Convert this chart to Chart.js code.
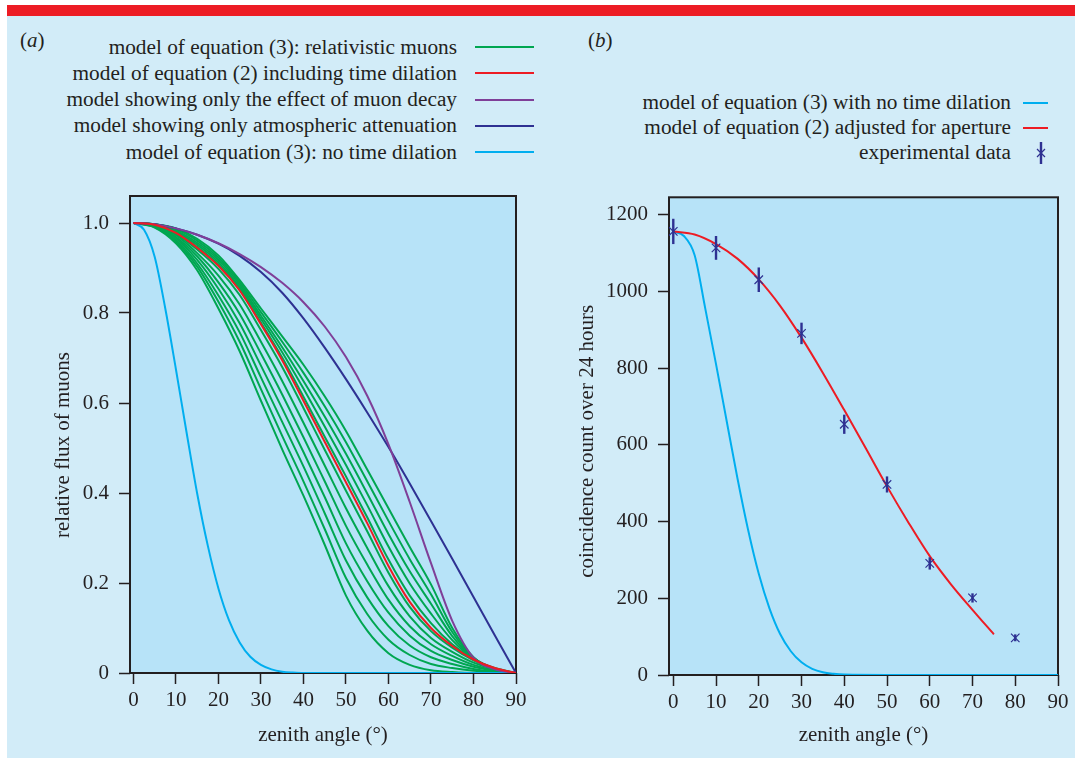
<!DOCTYPE html>
<html>
<head>
<meta charset="utf-8">
<script src="https://cdn.jsdelivr.net/npm/chart.js@4/dist/chart.umd.min.js"></script>
<style>
body{margin:0;background:#fff;width:1075px;height:758px;overflow:hidden;position:relative;font-family:"Liberation Serif",serif;color:#231f20}
#bar{position:absolute;left:7px;top:5px;width:1068px;height:11px;background:#ed1c24}
#panel{position:absolute;left:7px;top:16px;width:1068px;height:742px;background:#d2ecf8}
canvas{position:absolute}
#chartA{left:0;top:180px}
#chartB{left:540px;top:180px}
.tag{position:absolute;top:28px;font-size:21px;line-height:25px}
.key{position:absolute;font-size:21.3px}
.row{display:flex;align-items:center;justify-content:flex-end;white-space:nowrap}
.keyA .row{height:26.25px}
.keyB .row{height:25px}
.keyA .row i{display:inline-block;width:59px;height:2px;margin-left:18px}
.keyB .row i{display:inline-block;width:25px;height:2px;margin-left:12px}
.keyB .row svg{margin-left:12px}
</style>
</head>
<body>
<div id="bar"></div>
<div id="panel"></div>
<div class="tag" style="left:20px">(<i>a</i>)</div>
<div class="tag" style="left:588px">(<i>b</i>)</div>

<div class="key keyA" style="right:541px;top:34px">
  <div class="row">model of equation (3): relativistic muons<i style="background:#00a651"></i></div>
  <div class="row">model of equation (2) including time dilation<i style="background:#ed1c24"></i></div>
  <div class="row">model showing only the effect of muon decay<i style="background:#7f3f98"></i></div>
  <div class="row">model showing only atmospheric attenuation<i style="background:#2e3192"></i></div>
  <div class="row">model of equation (3): no time dilation<i style="background:#00aeef"></i></div>
</div>

<div class="key keyB" style="right:27px;top:90px">
  <div class="row">model of equation (3) with no time dilation<i style="background:#00aeef"></i></div>
  <div class="row">model of equation (2) adjusted for aperture<i style="background:#ed1c24"></i></div>
  <div class="row">experimental data<svg width="25" height="24" viewBox="0 0 25 24"><path d="M14 8 L22 16 M22 8 L14 16" stroke="#2e3192" stroke-width="1.2"/><path d="M18 1 L18 23" stroke="#2e3192" stroke-width="2.4"/></svg></div>
</div>

<canvas id="chartA" width="540" height="578"></canvas>
<canvas id="chartB" width="535" height="578"></canvas>

<script>
// panel (a): relative flux vs zenith angle
const angles = [0, 5, 10, 15, 20, 25, 30, 35, 40, 45, 50, 55, 60, 65, 70, 75, 80, 85, 90];
const fineAngles = [0, 2.5, 5, 7.5, 10, 12.5, 15, 17.5, 20, 22.5, 25, 27.5, 30, 32.5, 35, 37.5, 40, 50, 60, 70, 80, 90];
const fluxTicksX = [0, 10, 20, 30, 40, 50, 60, 70, 80, 90];
const fluxTicksY = [0, 0.2, 0.4, 0.6, 0.8, 1.0];

const green01 = [1, 0.990, 0.955, 0.895, 0.810, 0.715, 0.605, 0.497, 0.394, 0.285, 0.172, 0.094, 0.044, 0.018, 0.006, 0.002, 0, 0, 0];
const green02 = [1, 0.991, 0.959, 0.903, 0.825, 0.736, 0.631, 0.527, 0.426, 0.320, 0.211, 0.131, 0.074, 0.040, 0.020, 0.011, 0.005, 0.002, 0];
const green03 = [1, 0.992, 0.962, 0.910, 0.839, 0.757, 0.657, 0.558, 0.459, 0.355, 0.250, 0.168, 0.104, 0.061, 0.035, 0.020, 0.009, 0.003, 0];
const green04 = [1, 0.993, 0.966, 0.918, 0.854, 0.777, 0.683, 0.588, 0.491, 0.391, 0.288, 0.204, 0.134, 0.083, 0.049, 0.029, 0.014, 0.005, 0];
const green05 = [1, 0.994, 0.969, 0.926, 0.868, 0.798, 0.710, 0.619, 0.524, 0.426, 0.327, 0.241, 0.163, 0.104, 0.064, 0.038, 0.018, 0.006, 0];
const green06 = [1, 0.995, 0.973, 0.933, 0.883, 0.819, 0.736, 0.649, 0.556, 0.461, 0.366, 0.278, 0.193, 0.126, 0.078, 0.047, 0.023, 0.008, 0];
const green07 = [1, 0.996, 0.976, 0.941, 0.898, 0.840, 0.762, 0.680, 0.589, 0.496, 0.405, 0.315, 0.223, 0.147, 0.093, 0.056, 0.028, 0.009, 0];
const green08 = [1, 0.996, 0.979, 0.947, 0.908, 0.853, 0.779, 0.701, 0.614, 0.525, 0.437, 0.346, 0.252, 0.172, 0.111, 0.064, 0.031, 0.011, 0];
const green09 = [1, 0.996, 0.981, 0.952, 0.913, 0.858, 0.787, 0.713, 0.632, 0.548, 0.462, 0.373, 0.281, 0.199, 0.132, 0.073, 0.032, 0.010, 0];
const green10 = [1, 0.997, 0.983, 0.956, 0.918, 0.863, 0.794, 0.724, 0.649, 0.570, 0.487, 0.399, 0.309, 0.226, 0.154, 0.082, 0.033, 0.009, 0];
const green11 = [1, 0.997, 0.986, 0.961, 0.923, 0.868, 0.802, 0.736, 0.667, 0.593, 0.513, 0.426, 0.338, 0.253, 0.175, 0.091, 0.034, 0.008, 0];
const green12 = [1, 0.997, 0.988, 0.965, 0.928, 0.873, 0.810, 0.748, 0.685, 0.615, 0.538, 0.452, 0.366, 0.280, 0.197, 0.100, 0.035, 0.008, 0];
const withDilation = [1, 0.996, 0.978, 0.945, 0.905, 0.850, 0.775, 0.695, 0.605, 0.514, 0.424, 0.333, 0.238, 0.158, 0.100, 0.060, 0.030, 0.011, 0];
const decayOnly = [1, 0.997, 0.988, 0.974, 0.955, 0.931, 0.902, 0.867, 0.824, 0.770, 0.702, 0.616, 0.508, 0.380, 0.244, 0.116, 0.034, 0.008, 0];
const attenuationOnly = [1, 0.997, 0.988, 0.974, 0.954, 0.927, 0.891, 0.845, 0.788, 0.723, 0.653, 0.579, 0.502, 0.421, 0.338, 0.254, 0.169, 0.084, 0];
const noDilation = [1, 0.985, 0.925, 0.810, 0.675, 0.535, 0.399, 0.283, 0.188, 0.117, 0.068, 0.036, 0.018, 0.008, 0.003, 0.001, 0, 0, 0, 0, 0, 0];

// panel (b): coincidence counts
const countAngles = [0, 10, 20, 30, 40, 50, 60, 70, 80];
const counts = [1157, 1114, 1031, 891, 654, 497, 291, 201, 97];
const countErr = [33, 31, 32, 28, 25, 21, 16, 12, 9];
const apertureAngles = [0, 5, 10, 15, 20, 25, 30, 35, 40, 45, 50, 55, 60, 65, 70, 75];
const apertureModel = [1157, 1149, 1124, 1086, 1032, 963, 880, 788, 691, 592, 492, 398, 310, 236, 170, 106];
const noDilationCount = [1157, 1145, 1095, 955, 811, 662, 514, 379, 264, 174, 107, 62, 33, 16, 7, 3, 1, 0, 0, 0, 0, 0];
const countTicksY = [0, 200, 400, 600, 800, 1000, 1200];

const GREEN = "#00a651", RED = "#ed1c24", PURPLE = "#7f3f98", NAVY = "#2e3192", SKY = "#00aeef";
const INK = "#231f20";
const FONT = { family: "'Liberation Serif', serif", size: 21 };

function pts(xs, ys) { return xs.map((x, i) => ({ x: x, y: ys[i] })); }
function curve(xs, ys, color) {
    return { data: pts(xs, ys), borderColor: color, borderWidth: 2, pointRadius: 0, fill: false, cubicInterpolationMode: "monotone" };
}

// plot background, then the frame under the curves
const framePlugin = {
    id: "frame",
    beforeDraw(c) {
        const a = c.chartArea, ctx = c.ctx;
        ctx.save();
        ctx.fillStyle = "#b7e3f8";
        ctx.fillRect(a.left, a.top, a.width, a.height);
        ctx.restore();
    },
    beforeDatasetsDraw(c) {
        const a = c.chartArea, ctx = c.ctx;
        ctx.save();
        ctx.strokeStyle = INK;
        ctx.lineWidth = 2;
        ctx.strokeRect(a.left, a.top, a.width, a.height);
        ctx.restore();
    }
};

// vertical error bars for the experimental points
const errorBars = {
    id: "errorBars",
    afterDatasetsDraw(c) {
        const ctx = c.ctx, xs = c.scales.x, ys = c.scales.y;
        c.data.datasets.forEach(ds => {
            if (!ds.errors) return;
            ctx.save();
            ctx.strokeStyle = ds.borderColor;
            ctx.lineWidth = 2.4;
            ds.data.forEach((p, i) => {
                const px = xs.getPixelForValue(p.x);
                ctx.beginPath();
                ctx.moveTo(px, ys.getPixelForValue(p.y - ds.errors[i]));
                ctx.lineTo(px, ys.getPixelForValue(p.y + ds.errors[i]));
                ctx.stroke();
            });
            ctx.restore();
        });
    }
};

function axes(xmin, ymax, xTicks, yTicks, yTitle, yWidth, xHeight, yTitlePad, fmt) {
    const tickGrid = { drawOnChartArea: false, drawTicks: true, tickLength: 11, tickColor: INK, tickWidth: 1.5 };
    return {
        x: {
            type: "linear", min: xmin, max: 90,
            afterBuildTicks: s => { s.ticks = xTicks.map(v => ({ value: v })); },
            afterFit: s => { s.height = xHeight; },
            grid: tickGrid, border: { display: false },
            ticks: { color: INK, font: FONT, padding: 4, maxRotation: 0 },
            title: { display: true, text: "zenith angle (°)", color: INK, font: FONT, padding: { bottom: 10 } }
        },
        y: {
            type: "linear", min: 0, max: ymax,
            afterBuildTicks: s => { s.ticks = yTicks.map(v => ({ value: v })); },
            afterFit: s => { s.width = yWidth; s.paddingTop = 0; s.paddingBottom = 0; },
            grid: tickGrid, border: { display: false },
            ticks: { color: INK, font: FONT, padding: 10, callback: fmt },
            title: { display: true, text: yTitle, color: INK, font: FONT, padding: { top: yTitlePad } }
        }
    };
}

const greens = [green01, green02, green03, green04, green05, green06, green07, green08, green09, green10, green11, green12];

new Chart(document.getElementById("chartA"), {
    type: "line",
    data: {
        datasets: [
            curve(angles, withDilation, RED),
            curve(angles, decayOnly, PURPLE),
            curve(angles, attenuationOnly, NAVY),
            curve(fineAngles, noDilation, SKY)
        ].concat(greens.map(g => curve(angles, g, GREEN)))
    },
    options: {
        responsive: false, animation: false,
        layout: { padding: { top: 16, right: 24, left: 0, bottom: 0 } },
        plugins: { legend: { display: false }, tooltip: { enabled: false } },
        scales: axes(-0.8, 1.06, fluxTicksX, fluxTicksY, "relative flux of muons\u00a0\u00a0\u00a0\u00a0", 130, 85, 51,
            v => v === 0 ? "0" : v.toFixed(1))
    },
    plugins: [framePlugin]
});

new Chart(document.getElementById("chartB"), {
    type: "line",
    data: {
        datasets: [
            {
                data: pts(countAngles, counts), errors: countErr, showLine: false,
                pointStyle: "crossRot", pointRadius: 6, borderWidth: 1.2,
                borderColor: NAVY, backgroundColor: NAVY
            },
            curve(apertureAngles, apertureModel, RED),
            curve(fineAngles, noDilationCount, SKY)
        ]
    },
    options: {
        responsive: false, animation: false,
        layout: { padding: { top: 17.3, right: 17, left: 0, bottom: 0 } },
        plugins: { legend: { display: false }, tooltip: { enabled: false } },
        scales: axes(-1, 1246, fluxTicksX, countTicksY, "coincidence count over 24 hours\u00a0\u00a0", 129, 83, 35,
            v => String(v))
    },
    plugins: [framePlugin, errorBars]
});
</script>
</body>
</html>
